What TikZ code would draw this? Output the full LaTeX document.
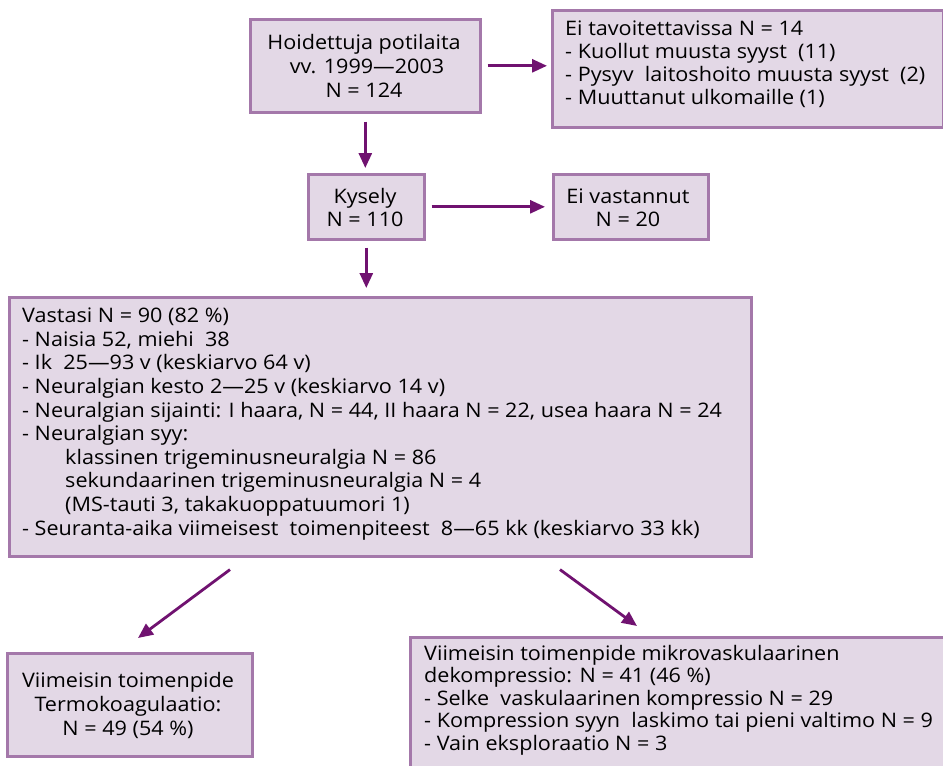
\documentclass[tikz,border=0pt]{standalone}
\usepackage{fontspec}
\setmainfont[FakeStretch=1.08]{Open Sans}
\usetikzlibrary{arrows.meta,calc}
\definecolor{boxfill}{RGB}{227,216,230}
\definecolor{boxline}{RGB}{164,120,170}
\definecolor{arr}{RGB}{112,18,112}
\begin{document}
\begin{tikzpicture}[x=1pt,y=-1pt,
  box/.style={draw=boxline, fill=boxfill, line width=2.6pt, inner sep=0pt, anchor=north west},
  txt/.style={anchor=base west, inner sep=0pt, align=left, font=\fontsize{20}{23.6}\selectfont},
  ctxt/.style={anchor=base, inner sep=0pt, align=center, font=\fontsize{20}{24}\selectfont},
  arrow/.style={draw=arr, line width=2.8pt, -{Triangle[length=15pt,width=13pt]}}]
\useasboundingbox (0,0) rectangle (943,766);
% boxes
\node[box, minimum width=230, minimum height=93] (hoid) at (249,18) {};
\node[box, minimum width=391, minimum height=117] (tav) at (551,9) {};
\node[box, minimum width=116, minimum height=65] (kys) at (307,173) {};
\node[box, minimum width=155, minimum height=65] (eiv) at (552,173) {};
\node[box, minimum width=742, minimum height=259] (vas) at (8,296) {};
\node[box, minimum width=245, minimum height=103] (tk) at (6,652) {};
\node[box, minimum width=545, minimum height=150] (mvd) at (409,636) {};
% texts (anchored at the baseline of the last line)
\node[ctxt] (thoid) at (364,97.7) {Hoidettuja potilaita\\\hspace*{6pt}vv. 1999—2003\\N = 124};
\node[txt, font=\fontsize{20}{23}\selectfont] (ttav) at (565,104) {Ei tavoitettavissa N = 14\\- Kuollut muusta syyst~~(11)\\- Pysyv~~laitoshoito muusta syyst~~(2)\\- Muuttanut ulkomaille (1)};
\node[ctxt, font=\fontsize{20}{23}\selectfont] (tkys) at (365,226) {Kysely\\N = 110};
\node[ctxt, font=\fontsize{20}{23}\selectfont] (teiv) at (628,226) {Ei vastannut\\N = 20};
\node[txt] (tvas) at (22,535) {Vastasi N = 90 (82 \%)\\
- Naisia 52, miehi~~38\\
- Ik~~25—93 v (keskiarvo 64 v)\\
- Neuralgian kesto 2—25 v (keskiarvo 14 v)\\
- Neuralgian sijainti: I haara, N = 44, II haara N = 22, usea haara N = 24\\
- Neuralgian syy:\\
\hspace*{43pt}klassinen trigeminusneuralgia N = 86\\
\hspace*{43pt}sekundaarinen trigeminusneuralgia N = 4\\
\hspace*{43pt}(MS-tauti 3, takakuoppatuumori 1)\\
- Seuranta-aika viimeisest~~toimenpiteest~~8—65 kk (keskiarvo 33 kk)};
\node[ctxt] (ttk) at (128,735) {Viimeisin toimenpide\\Termokoagulaatio:\\N = 49 (54 \%)};
\node[txt, font=\fontsize{20}{22.5}\selectfont] (tmvd) at (424,750) {Viimeisin toimenpide mikrovaskulaarinen\\
dekompressio: N = 41 (46 \%)\\
- Selke~~vaskulaarinen kompressio N = 29\\
- Kompression syyn~~laskimo tai pieni valtimo N = 9\\
- Vain eksploraatio N = 3};
% arrows
\draw[arrow, shorten <=6pt, shorten >=4pt] (hoid.east) -- (hoid.east -| tav.west);
\draw[arrow, shorten <=8pt, shorten >=5pt] (hoid.south) -- (hoid.south |- kys.north);
\draw[arrow, shorten <=6pt, shorten >=7pt] (kys.east) -- (eiv.west);
\draw[arrow, shorten <=7pt, shorten >=8pt] (kys.south) -- (kys.south |- vas.north);
\coordinate (l1) at ($(vas.south west)+(222,12)$);
\coordinate (l2) at ($(tk.north west)+(132,-14)$);
\coordinate (r1) at ($(vas.south west)+(552,12)$);
\coordinate (r2) at ($(mvd.north west)+(228,-10)$);
\draw[arrow] (l1) -- (l2);
\draw[arrow] (r1) -- (r2);
\end{tikzpicture}
\end{document}
